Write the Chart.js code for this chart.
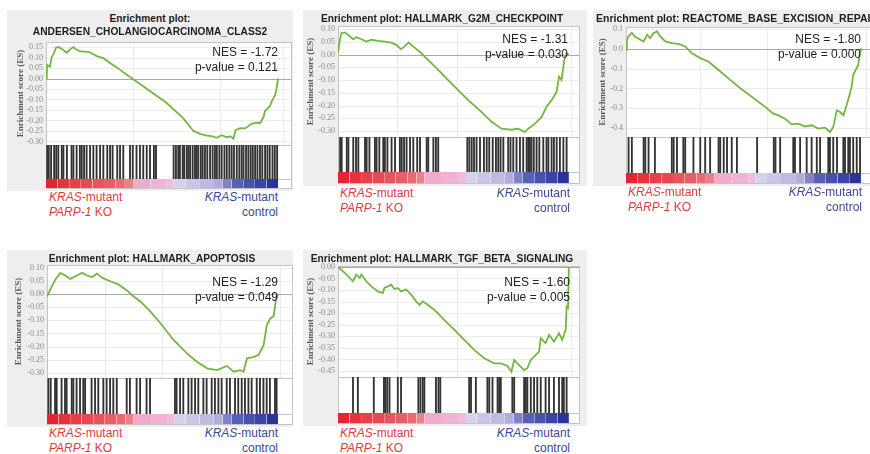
<!doctype html>
<html lang="en">
<head>
<meta charset="utf-8">
<script src="https://cdn.jsdelivr.net/npm/chart.js"></script>
<title>GSEA enrichment plots</title>
<style>
  body { margin:0; width:870px; height:454px; overflow:hidden; background:#fff; position:relative;
         font-family:"Liberation Sans", Arial, sans-serif; }
  .bg { position:absolute; background:#eeeeee; }
  canvas { position:absolute; }
  .t { position:absolute; white-space:nowrap; }
  .title { font-weight:bold; font-size:10.2px; color:#1e1e1e; }
  .nes { font-size:12px; color:#222; }
  .lab { font-size:12px; }
  .red { color:#e23b3b; }
  .blue { color:#3b4798; }
</style>
</head>
<body>
<script>
// ranks are on a 0-100 scale (position in the ordered gene list)
const p1Rank = [0,0.3,0.5,1.7,2.4,3.4,4.3,5.3,7,8.9,10.5,11.8,13,14.7,17,19,21.8,24.7,27.6,30.5,34.8,37.6,44.8,52,59.2,63.5,66.4,69.3,71.4,73.6,75.7,77.9,79.5,80.7,81.7,83.6,85.8,88.6,90.8,92.2,93.7,94.4,96.6,97.3,98.7,99.4,100];
const p1ES = [0,0.01,0.065,0.056,0.10,0.12,0.147,0.15,0.14,0.123,0.14,0.15,0.138,0.129,0.128,0.125,0.107,0.097,0.074,0.053,0.018,-0.004,-0.06,-0.117,-0.19,-0.25,-0.264,-0.272,-0.275,-0.283,-0.27,-0.28,-0.276,-0.287,-0.246,-0.237,-0.238,-0.216,-0.21,-0.213,-0.185,-0.154,-0.13,-0.108,-0.08,-0.046,0];
const p1Hits = [0.5,1.2,2.2,3.5,4.4,5.3,6.8,7.5,9,11,11.8,13.2,14.6,15.4,16.4,17.5,19,20.4,21.8,23.3,24.7,26.4,27.6,28.7,30.7,31.9,33.3,36.2,37.4,39,40.5,41.9,43.4,44.8,46.5,47.4,55,56,57,57.7,58.9,59.5,60.6,61.3,62.1,63.2,64.2,64.9,65.6,66.7,67.5,68.5,69.5,70.7,71.8,72.8,73.6,74.7,75.7,76.9,77.9,79,80,81,82.2,83.3,84.3,85.1,86.2,87.2,88.2,89.1,90.1,91.1,92.2,93.2,94.4,95.4,96.4,97.6,98.6,99.6];

const p2Rank = [0,0.7,1.4,2.9,4.3,6.5,7.9,10.1,12.3,14.5,17.3,20.2,23.1,25.3,27.2,28.9,30.6,32.5,36.1,39,43.4,49.1,56.4,62.1,66.5,70.8,75.1,78,80.9,82.4,85.3,88.2,90.3,92.5,94.7,95.7,96.8,98,99,100];
const p2ES = [0.005,0.05,0.084,0.087,0.078,0.06,0.068,0.06,0.051,0.058,0.054,0.051,0.047,0.038,0.021,0.032,0.047,0.032,0.005,-0.021,-0.06,-0.113,-0.179,-0.225,-0.264,-0.291,-0.295,-0.291,-0.304,-0.291,-0.271,-0.245,-0.205,-0.179,-0.146,-0.087,-0.1,-0.021,0.005,0];
const p2Hits = [0.9,1.6,3.8,4.5,6.6,7.8,8.8,11.7,12.4,13.6,16,16.7,17.9,19.6,20.3,21.4,23.2,24.7,26.8,27.6,28.6,29.7,31.2,32.6,34.3,35.5,38.4,39.1,41.3,42.4,43.4,56,56.9,57.9,58.9,60,61.5,63.2,64.4,65.5,67,68.4,69.4,70.4,71.6,73.7,74.7,75.9,77.3,78.8,80.2,81.7,82.4,83.1,83.8,84.8,86,87.2,88.9,90.3,91.1,92.5,93.5,94.7,96.1,97.6,99];

const p3Rank = [0,0.4,1.1,2.5,4,6.1,7.5,9,10.3,11.8,13.2,14.6,16.7,19.5,22.4,25.2,28,31.6,35.1,39.4,43.6,47.9,53.5,59.2,62.7,64.9,67.7,70.5,73.4,76.2,79,81.9,84.7,86.8,88.2,89.7,91.1,92.5,93.9,95.3,96,96.7,97.7,98.9,99.6,100];
const p3ES = [-0.005,0.046,0.063,0.08,0.059,0.046,0.037,0.071,0.054,0.08,0.088,0.063,0.037,0.029,0.025,0.012,-0.022,-0.047,-0.064,-0.107,-0.149,-0.192,-0.242,-0.293,-0.327,-0.336,-0.353,-0.381,-0.378,-0.392,-0.386,-0.403,-0.398,-0.42,-0.395,-0.31,-0.319,-0.336,-0.285,-0.225,-0.192,-0.132,-0.107,-0.081,-0.005,0.003];
const p3Hits = [1.1,2.5,7.5,8.2,9.6,12.3,19.5,20.3,21.7,24.4,25.2,28.7,31.6,33.7,35.8,39.4,40.1,41.6,43,45,47.2,55.8,62.9,63.6,65.6,71.2,71.9,74.1,76.9,79,81.2,82.6,86.1,86.8,88.2,89.8,92.5,93.2,94.6,95.3,96.7,98.2,99.6];

const p4Rank = [0,1.4,3.6,5.8,7.9,10.1,12.3,15.2,17.3,19.5,21.6,24,27.4,31,34.6,37.5,40.4,44.7,49.1,54.8,60.6,64.9,69.3,73.6,77.9,80.8,83.7,85.1,86.6,89.5,91.6,93.8,95.2,96.7,98.1,99.1,100];
const p4ES = [-0.009,0.017,0.055,0.081,0.071,0.058,0.068,0.081,0.071,0.065,0.078,0.062,0.049,0.036,0.014,-0.009,-0.028,-0.066,-0.111,-0.175,-0.226,-0.258,-0.283,-0.29,-0.274,-0.296,-0.29,-0.296,-0.245,-0.239,-0.232,-0.194,-0.117,-0.092,-0.085,-0.021,-0.002];
const p4Hits = [0.6,1.6,3.5,4.2,6.3,7.8,8.5,10.7,11.4,12.8,14.3,15.7,16.5,19.3,20.8,22.2,24.4,25.8,27.3,28.7,30.2,34.5,35.9,38.8,40.3,43.1,44.6,55.4,56.1,57.6,59,61.2,62.6,64.1,65.5,67.7,69.1,71.3,72.7,74.2,75.6,77.8,79.2,81.4,82.8,84.3,85.7,87.2,88.6,90.8,92.2,93.7,95.1,96.5,98.7,99.4];

const p5Rank = [0,2.9,6.5,7.9,9.4,10.1,12.2,14.4,17.3,19.4,20.1,21.6,23,24.5,25.9,27.3,29.5,31.7,33.8,35.3,36.7,38.8,41.7,46,50.4,54.7,59,63.3,67.6,70.5,73.4,75.1,76.3,77.7,80.6,82,83.5,84.9,87.1,87.8,89.9,91.4,93.5,95.7,97.1,98.6,99,99.6,100];
const p5ES = [0,-0.026,-0.062,-0.033,-0.048,-0.033,-0.062,-0.084,-0.106,-0.113,-0.091,-0.084,-0.077,-0.096,-0.091,-0.106,-0.098,-0.12,-0.149,-0.164,-0.149,-0.164,-0.185,-0.229,-0.272,-0.315,-0.359,-0.395,-0.417,-0.417,-0.428,-0.453,-0.402,-0.417,-0.446,-0.438,-0.402,-0.388,-0.366,-0.308,-0.33,-0.294,-0.323,-0.287,-0.315,-0.272,-0.171,-0.178,0];
const p5Hits = [6.5,8.6,15.5,19.9,20.4,21.3,22.3,25.9,27.3,34.8,35.7,36.7,37.4,42.4,43.5,44.3,56.8,57.6,59.7,64.7,65.5,66.9,69.1,69.8,70.5,75.5,76.3,80.6,81.3,82,83.5,84.9,86.3,87.8,89.9,91.4,93.5,95.7,97.1,97.8,99];

// ranked list colour bar (red = PARP-1 KO side, blue = control side)
const cbStart = [0,5,10,15,20,25,30,34,37.5,45,52,55,60,66,72,76,80,85,90,95];
const cbEnd   = [5,10,15,20,25,30,34,37.5,45,52,55,60,66,72,76,80,85,90,95,100];
const cbColor = ['#e2262f','#e3343b','#e44048','#e54a52','#e6545c','#e75e66','#e96a72','#ec8087','#f0aacb','#f2b2d4',
                 '#eebcdc','#d6d2ec','#c9c7e7','#bdbbe2','#aeaddb','#7f82c8','#5660b5','#4751ad','#3a44a5','#2a339a'];

const nesText = ['-1.72','-1.31','-1.80','-1.29','-1.60'];
const pText   = ['0.121','0.030','0.000','0.049','0.005'];
const titles  = [['Enrichment plot:','ANDERSEN_CHOLANGIOCARCINOMA_CLASS2'],
                 ['Enrichment plot: HALLMARK_G2M_CHECKPOINT'],
                 ['Enrichment plot: REACTOME_BASE_EXCISION_REPAIR'],
                 ['Enrichment plot: HALLMARK_APOPTOSIS'],
                 ['Enrichment plot: HALLMARK_TGF_BETA_SIGNALING']];

const GREEN = '#74b640';

const panels = [
  {rank:p1Rank, es:p1ES, hits:p1Hits, yMin:-0.317, yMax:0.174, step:0.05, dec:2, xMax:106, vgrid:[37.5,75,102],
   bg:[7,10,286,181], canvasLeft:15, plotLeft:46, plotRight:292, esTop:42, esBottom:145, hitBottom:179, cbBottom:188,
   titleX:150, titleY:[18,31], titleAlign:'center', titleSize:10.2, nesX:278, nesY:52, labL:49, labR:278, labY:197},
  {rank:p2Rank, es:p2ES, hits:p2Hits, yMin:-0.3235, yMax:0.112, step:0.05, dec:2, xMax:104.8, vgrid:[25.5,51.5,101],
   bg:[303,10,284,176], canvasLeft:305, plotLeft:338, plotRight:580, esTop:26, esBottom:137, hitBottom:172, cbBottom:183,
   titleX:442, titleY:[18], titleAlign:'center', titleSize:10.2, nesX:568, nesY:39, labL:340, labR:570, labY:193},
  {rank:p3Rank, es:p3ES, hits:p3Hits, yMin:-0.445, yMax:0.11, step:0.1, dec:1, xMax:106.4, vgrid:[31.5,60,102],
   bg:[593,10,290,176], canvasLeft:597, plotLeft:626, plotRight:876, esTop:27, esBottom:137, hitBottom:173, cbBottom:183,
   titleX:596, titleY:[18], titleAlign:'left', titleSize:10.5, nesX:861, nesY:39, labL:628, labR:862, labY:192},
  {rank:p4Rank, es:p4ES, hits:p4Hits, yMin:-0.32, yMax:0.111, step:0.05, dec:2, xMax:106.5, vgrid:[25,50,75,101],
   bg:[7,250,286,177], canvasLeft:13, plotLeft:47, plotRight:293, esTop:265, esBottom:378, hitBottom:414, cbBottom:424,
   titleX:152, titleY:[258], titleAlign:'center', titleSize:10.2, nesX:278, nesY:282, labL:49, labR:278, labY:433},
  {rank:p5Rank, es:p5ES, hits:p5Hits, yMin:-0.476, yMax:0.004, step:0.05, dec:2, xMax:104.8, vgrid:[25.5,51.5,101],
   bg:[303,250,284,176], canvasLeft:305, plotLeft:338, plotRight:580, esTop:266, esBottom:377, hitBottom:413, cbBottom:423,
   titleX:442, titleY:[258], titleAlign:'center', titleSize:10.2, nesX:570, nesY:282, labL:340, labR:570, labY:433}
];

function txt(html, cls, x, y, align, lh, size) {
  const d = document.createElement('div');
  d.className = 't ' + cls;
  d.innerHTML = html;
  const w = 420;
  const left = align === 'center' ? x - w / 2 : align === 'right' ? x - w : x;
  d.style.cssText = 'left:' + left + 'px;top:' + (y - lh / 2) + 'px;width:' + w + 'px;text-align:' + align +
                    ';line-height:' + lh + 'px' + (size ? ';font-size:' + size + 'px' : '');
  document.body.appendChild(d);
}

// white plot area, frames and the grid of the ES part
const frame = {
  id: 'frame',
  beforeDatasetsDraw(chart, args, opts) {
    const {ctx, chartArea: a, scales} = chart;
    ctx.save();
    ctx.fillStyle = '#fff';
    ctx.fillRect(a.left, a.top, a.right - a.left, a.bottom - a.top);
    ctx.strokeStyle = '#ececec';
    ctx.lineWidth = 1;
    const es = scales.es;
    opts.vgrid.forEach(v => {
      const x = Math.round(scales.x.getPixelForValue(v)) + 0.5;
      ctx.beginPath(); ctx.moveTo(x, es.top); ctx.lineTo(x, es.bottom); ctx.stroke();
    });
    es.ticks.forEach(t => {
      const y = Math.round(es.getPixelForValue(t.value)) + 0.5;
      ctx.strokeStyle = Math.abs(t.value) < 1e-9 ? '#a8a8a8' : '#ececec';
      ctx.beginPath(); ctx.moveTo(a.left, y); ctx.lineTo(a.right, y); ctx.stroke();
    });
    ctx.strokeStyle = '#c4c4c4';
    ['es', 'hit', 'cb'].forEach(id => {
      const s = scales[id];
      ctx.strokeRect(a.left + 0.5, s.top + 0.5, a.right - a.left - 1, s.bottom - s.top);
    });
    ctx.restore();
  }
};

panels.forEach((p, i) => {
  const bg = document.createElement('div');
  bg.className = 'bg';
  bg.style.cssText = 'left:' + p.bg[0] + 'px;top:' + p.bg[1] + 'px;width:' + p.bg[2] + 'px;height:' + p.bg[3] + 'px';
  document.body.appendChild(bg);

  const pad = 8;
  const c = document.createElement('canvas');
  c.width = p.plotRight + 1 - p.canvasLeft;
  c.height = p.cbBottom + 1 - (p.esTop - pad);
  c.style.left = p.canvasLeft + 'px';
  c.style.top = (p.esTop - pad) + 'px';
  document.body.appendChild(c);

  const axisW = p.plotLeft - p.canvasLeft;
  const fix = s => { s.width = axisW; s.paddingTop = 0; s.paddingBottom = 0; };
  const plain = {ticks: {display: false}, grid: {display: false}, border: {display: false}};

  new Chart(c, {
    type: 'line',
    data: {
      datasets: [
        {type: 'line', data: p.rank.map((x, k) => ({x: x, y: p.es[k]})), yAxisID: 'es',
         borderColor: GREEN, borderWidth: 1.8, pointRadius: 0, tension: 0},
        {type: 'bar', data: p.hits.map(x => ({x: x, y: 1})), yAxisID: 'hit',
         backgroundColor: '#333333', barThickness: 1.2}
      ].concat(cbStart.map((a, k) => ({
         type: 'line', data: [{x: a, y: 1}, {x: cbEnd[k], y: 1}], yAxisID: 'cb', fill: 'origin',
         backgroundColor: cbColor[k], borderWidth: 0, pointRadius: 0})))
    },
    options: {
      responsive: false, animation: false, devicePixelRatio: 1,
      layout: {padding: {top: pad, right: 1, bottom: 1, left: 0}},
      plugins: {legend: {display: false}, tooltip: {enabled: false}, frame: {vgrid: p.vgrid}},
      scales: {
        x: {type: 'linear', min: 0, max: p.xMax, offset: false, display: false},
        es: {position: 'left', stack: 'p', stackWeight: p.esBottom - p.esTop, weight: 3,
             min: p.yMin, max: p.yMax, afterFit: fix,
             ticks: {stepSize: p.step, includeBounds: false, autoSkip: false, callback: v => v.toFixed(p.dec),
                     font: {family: 'Liberation Serif', size: 8}, color: '#8a8a8a', padding: 3},
             grid: {drawTicks: false, color: 'rgba(0,0,0,0)'},
             border: {display: false},
             title: {display: true, text: 'Enrichment score (ES)', color: '#555', padding: 0,
                     font: {family: 'Liberation Serif', size: 9, weight: 'bold'}}},
        hit: Object.assign({position: 'left', stack: 'p', stackWeight: p.hitBottom - p.esBottom, weight: 2,
             min: 0, max: 1, afterFit: fix}, plain),
        cb: Object.assign({position: 'left', stack: 'p', stackWeight: p.cbBottom - p.hitBottom, weight: 1,
             min: 0, max: 1, afterFit: fix}, plain)
      }
    },
    plugins: [frame]
  });

  titles[i].forEach((line, k) => txt(line, 'title', p.titleX, p.titleY[k], p.titleAlign, 13, p.titleSize));
  txt('NES = ' + nesText[i], 'nes', p.nesX, p.nesY, 'right', 15);
  txt('p-value = ' + pText[i], 'nes', p.nesX, p.nesY + 15, 'right', 15);
  txt('<i>KRAS</i>-mutant', 'lab red', p.labL, p.labY, 'left', 14);
  txt('<i>PARP-1</i> KO', 'lab red', p.labL, p.labY + 14.5, 'left', 14);
  txt('<i>KRAS</i>-mutant', 'lab blue', p.labR, p.labY, 'right', 14);
  txt('control', 'lab blue', p.labR, p.labY + 14.5, 'right', 14);
});
</script>
</body>
</html>
